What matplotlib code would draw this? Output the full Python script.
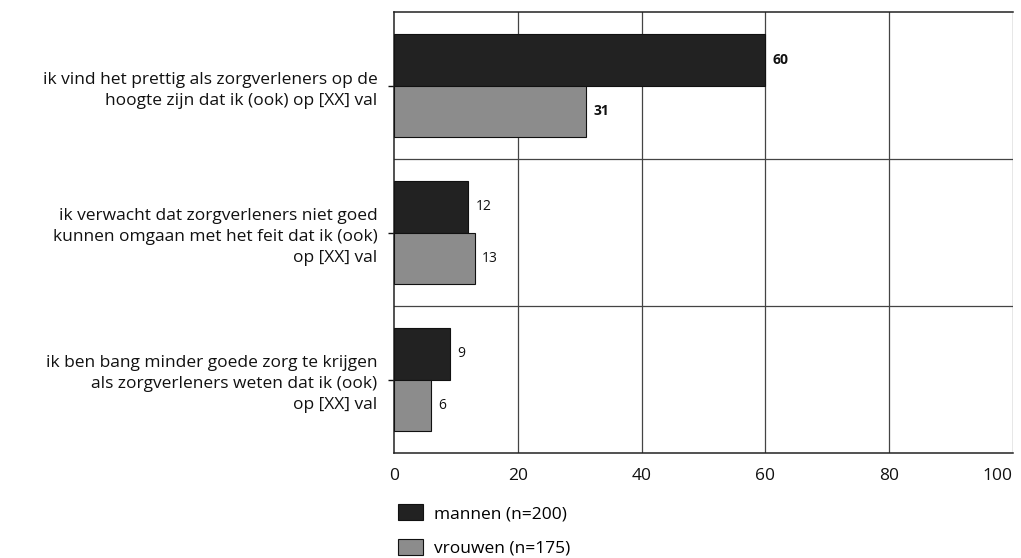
import matplotlib.pyplot as plt
import matplotlib.transforms as mtransforms
import numpy as np

plt.rcParams['font.family'] = ['Open Sans', 'DejaVu Sans']

categories = [
    "ik vind het prettig als zorgverleners op de\nhoogte zijn dat ik (ook) op [XX] val",
    "ik verwacht dat zorgverleners niet goed\nkunnen omgaan met het feit dat ik (ook)\nop [XX] val",
    "ik ben bang minder goede zorg te krijgen\nals zorgverleners weten dat ik (ook)\nop [XX] val",
]
mannen = [60, 12, 9]
vrouwen = [31, 13, 6]
series_labels = ["mannen (n=200)", "vrouwen (n=175)"]
xticks = [0, 20, 40, 60, 80, 100]

fig = plt.figure(figsize=(10.21, 5.58), dpi=100)
ax = fig.add_axes([0.386, 0.188, 0.606, 0.790])

y = np.arange(len(categories))
h = 0.35
ax.barh(y - h / 2, mannen, height=h, color='#222222', edgecolor='#111111', linewidth=0.8,
        label=series_labels[0], zorder=3)
ax.barh(y + h / 2, vrouwen, height=h, color='#8c8c8c', edgecolor='#111111', linewidth=0.8,
        label=series_labels[1], zorder=3)

# value labels, first group in bold
for i, (m, v) in enumerate(zip(mannen, vrouwen)):
    w = 'bold' if i == 0 else 'normal'
    ax.text(m + 1.2, y[i] - h / 2, str(m), va='center', ha='left', fontsize=10, fontweight=w, color='#111111')
    ax.text(v + 1.2, y[i] + h / 2, str(v), va='center', ha='left', fontsize=10, fontweight=w, color='#111111')

ax.set_xlim(0, 100)
ax.set_ylim(len(categories) - 0.5, -0.5)
ax.set_xticks(xticks)
ax.set_xticklabels([str(t) for t in xticks], fontsize=12.5)
ax.set_yticks(y)
ax.set_yticklabels(categories, fontsize=12.5, linespacing=1.4)

# keep "100" inside the figure
last = ax.get_xticklabels()[-1]
last.set_horizontalalignment('right')
last.set_transform(last.get_transform() + mtransforms.ScaledTranslation(4 / 100, 0, fig.dpi_scale_trans))

# grid: vertical at x ticks, horizontal between groups
for t in xticks[1:]:
    ax.axvline(t, color='#444444', linewidth=0.9, zorder=1)
for b in np.arange(len(categories) - 1) + 0.5:
    ax.axhline(b, color='#444444', linewidth=0.9, zorder=1)

for s in ['left', 'bottom', 'top']:
    ax.spines[s].set_color('#222222')
    ax.spines[s].set_linewidth(1.1)
ax.spines['right'].set_visible(False)

ax.tick_params(axis='y', length=8, width=1, direction='inout', pad=8, colors='#111111')
ax.tick_params(axis='x', length=0, pad=11, colors='#111111')

ax.legend(loc='upper left', bbox_to_anchor=(-0.005, -0.1), frameon=False, fontsize=12.5,
          handlelength=1.45, handleheight=1.05, labelspacing=0.95, handletextpad=0.6, borderaxespad=0)

fig.savefig('out.png', dpi=100)
